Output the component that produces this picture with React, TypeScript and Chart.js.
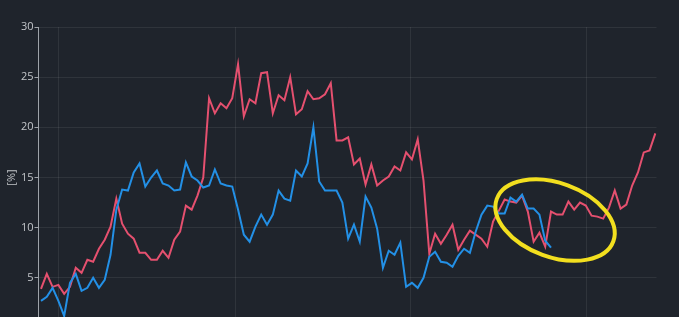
import { useEffect, useRef } from 'react';
import { Chart, registerables } from 'chart.js';

Chart.register(...registerables);

// ---- data ----
const redSeries: number[] = [
  3.9, 5.4, 4.1, 4.3, 3.4, 4.1, 6.0, 5.5, 6.8, 6.6,
  7.9, 8.8, 10.1, 12.9, 10.4, 9.4, 8.9, 7.5, 7.5, 6.8,
  6.8, 7.7, 7.0, 8.8, 9.6, 12.2, 11.8, 13.2, 15.0, 22.9,
  21.4, 22.4, 21.9, 22.9, 26.3, 21.1, 22.8, 22.4, 25.4, 25.5,
  21.4, 23.2, 22.7, 25.0, 21.3, 21.8, 23.6, 22.8, 22.9, 23.3,
  24.4, 18.7, 18.7, 19.0, 16.3, 16.9, 14.3, 16.3, 14.2, 14.7,
  15.1, 16.1, 15.7, 17.5, 16.8, 18.8, 14.7, 7.4, 9.4, 8.4,
  9.3, 10.3, 7.8, 8.8, 9.7, 9.3, 8.9, 8.1, 10.6, 11.7,
  12.8, 12.6, 12.5, 13.2, 11.6, 8.6, 9.5, 8.1, 11.6, 11.3,
  11.3, 12.6, 11.8, 12.5, 12.2, 11.2, 11.1, 10.9, 12.0, 13.7,
  11.9, 12.3, 14.2, 15.5, 17.5, 17.7, 19.4,
];

const blueSeries: number[] = [
  2.7, 3.1, 4.0, 2.7, 1.2, 4.5, 5.4, 3.7, 4.0, 5.0,
  4.0, 4.8, 7.3, 11.8, 13.8, 13.7, 15.5, 16.4, 14.1, 15.0,
  15.7, 14.4, 14.2, 13.7, 13.8, 16.5, 15.1, 14.7, 14.0, 14.2,
  15.8, 14.4, 14.2, 14.1, 11.8, 9.3, 8.6, 10.1, 11.3, 10.3,
  11.3, 13.7, 12.9, 12.7, 15.7, 15.1, 16.4, 20.0, 14.6, 13.7,
  13.7, 13.7, 12.5, 8.9, 10.3, 8.6, 13.1, 12.0, 9.9, 6.0,
  7.7, 7.3, 8.5, 4.1, 4.5, 4.0, 5.0, 7.1, 7.6, 6.6,
  6.5, 6.1, 7.2, 7.9, 7.5, 9.6, 11.3, 12.2, 12.1, 11.4,
  11.4, 13.0, 12.6, 13.3, 11.9, 11.9, 11.3, 8.7, 8.0,
];

const yTickValues: number[] = [0, 5, 10, 15, 20, 25, 30];
const xGridPositions: number[] = [3.1, 33.5, 63.8, 94.2];
const highlightCenterX = 88.7;
const highlightCenterY = 10.76;

// ---- styles ----
const BG = '#1f242c';
const RED = '#e5506f';
const BLUE = '#2390e6';
const TEXT = '#c3c6ca';
const AXIS = '#9ea3a9';
const GRID = 'rgba(255,255,255,0.075)';
const FONT = 'Open Sans';

const ellipsePlugin = {
  id: 'highlightEllipse',
  afterDatasetsDraw(chart: any) {
    const { ctx, scales } = chart;
    const cx = scales.x.getPixelForValue(highlightCenterX);
    const cy = scales.y.getPixelForValue(highlightCenterY);
    ctx.save();
    ctx.beginPath();
    ctx.ellipse(cx, cy, 62, 37, (20 * Math.PI) / 180, 0, Math.PI * 2);
    ctx.strokeStyle = '#f2df1f';
    ctx.lineWidth = 4;
    ctx.stroke();
    ctx.restore();
  },
};

export default function App() {
  const canvasRef = useRef<HTMLCanvasElement | null>(null);

  useEffect(() => {
    if (!canvasRef.current) return;
    const chart = new Chart(canvasRef.current, {
      type: 'line',
      data: {
        datasets: [
          {
            label: 'Series B',
            data: blueSeries.map((v, i) => ({ x: i, y: v })),
            borderColor: BLUE,
            borderWidth: 2,
            pointRadius: 0,
            tension: 0,
            fill: false,
          },
          {
            label: 'Series A',
            data: redSeries.map((v, i) => ({ x: i, y: v })),
            borderColor: RED,
            borderWidth: 2,
            pointRadius: 0,
            tension: 0,
            fill: false,
          },
        ],
      },
      options: {
        animation: false,
        responsive: true,
        maintainAspectRatio: false,
        layout: { padding: { left: 0, right: 14.5, top: 27, bottom: 10 } },
        plugins: {
          legend: { display: false },
          tooltip: { enabled: false },
        },
        scales: {
          x: {
            type: 'linear',
            min: -0.43,
            max: 106.2,
            afterBuildTicks(scale: any) {
              scale.ticks = xGridPositions.map((v) => ({ value: v }));
            },
            ticks: { display: false },
            grid: { color: GRID, drawTicks: false },
            border: { display: false },
          },
          y: {
            min: 0,
            max: 30,
            afterBuildTicks(scale: any) {
              scale.ticks = yTickValues.map((v) => ({ value: v }));
            },
            afterFit(scale: any) {
              scale.width = 38.5;
            },
            border: { color: AXIS, width: 1 },
            grid: { color: GRID, tickColor: AXIS, tickLength: 4 },
            ticks: { color: TEXT, font: { family: FONT, size: 11 }, padding: 1 },
            title: {
              display: true,
              text: '[%]',
              color: TEXT,
              font: { family: FONT, size: 11 },
              padding: { top: 5, bottom: 0 },
            },
          },
        },
      },
      plugins: [ellipsePlugin],
    });
    return () => chart.destroy();
  }, []);

  return (
    <div
      style={{
        position: 'fixed',
        left: 0,
        top: 0,
        width: '100vw',
        height: '100vh',
        background: BG,
        overflow: 'hidden',
      }}
    >
      <div style={{ position: 'absolute', left: 0, top: 0, width: 671, height: 338 }}>
        <canvas ref={canvasRef} />
      </div>
    </div>
  );
}
